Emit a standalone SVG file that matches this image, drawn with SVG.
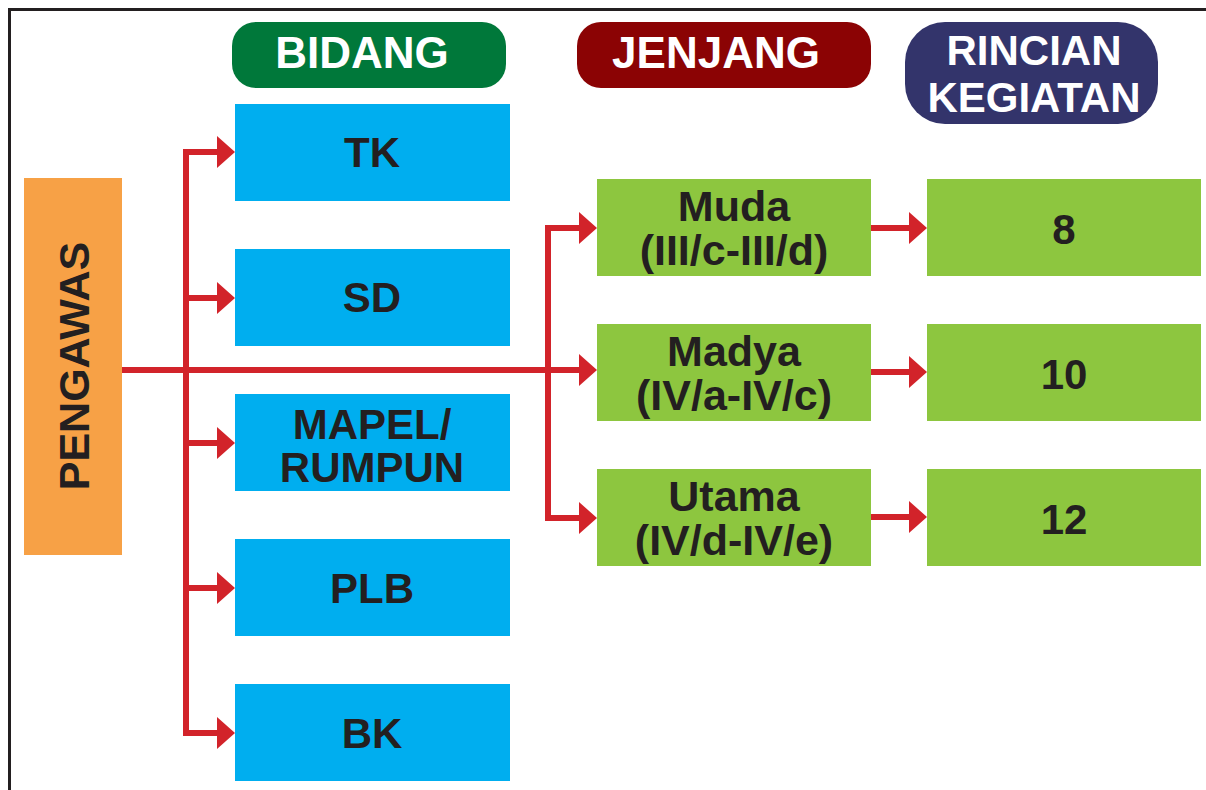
<svg xmlns="http://www.w3.org/2000/svg" width="1206" height="790" viewBox="0 0 1206 790">
  <style>
    .lbl { font-family: "Liberation Sans", Arial, sans-serif; font-weight: bold; fill: #231F20; text-anchor: middle; }
    .hdr { font-family: "Liberation Sans", Arial, sans-serif; font-weight: bold; fill: #FFFFFF; text-anchor: middle; font-size: 44px; }
    .blue { fill: #00AEEF; }
    .green { fill: #8DC63F; }
    .conn { fill: none; stroke: #D2232A; stroke-width: 6; }
  </style>
  <defs>
    <marker id="arrow" markerUnits="userSpaceOnUse" markerWidth="20" markerHeight="34" viewBox="0 -17 19 34" refX="0" refY="0" orient="auto">
      <path d="M0,-16 L18,0 L0,16 Z" fill="#D2232A"/>
    </marker>
  </defs>

  <rect x="0" y="0" width="1206" height="790" fill="#FFFFFF"/>

  <!-- frame -->
  <path d="M9.5,790 V9.5 H1206" fill="none" stroke="#231F20" stroke-width="3"/>

  <!-- column headers -->
  <g id="hdr-bidang">
    <rect x="232" y="22" width="274" height="66" rx="24" fill="#00783A"/>
    <text class="hdr" x="362" y="68">BIDANG</text>
  </g>
  <g id="hdr-jenjang">
    <rect x="577" y="22" width="294" height="66" rx="24" fill="#8B0304"/>
    <text class="hdr" x="716" y="68">JENJANG</text>
  </g>
  <g id="hdr-rincian">
    <rect x="905" y="22" width="253" height="102" rx="40" fill="#33346B"/>
    <text class="hdr" style="font-size:42px"><tspan x="1034" y="65">RINCIAN</tspan><tspan x="1034" y="112">KEGIATAN</tspan></text>
  </g>

  <!-- connectors -->
  <g id="connectors">
    <path class="conn" d="M122,370 H579" marker-end="url(#arrow)"/>
    <path class="conn" d="M186,152 V733"/>
    <path class="conn" d="M183,152 H217" marker-end="url(#arrow)"/>
    <path class="conn" d="M186,298 H217" marker-end="url(#arrow)"/>
    <path class="conn" d="M186,443 H217" marker-end="url(#arrow)"/>
    <path class="conn" d="M186,588 H217" marker-end="url(#arrow)"/>
    <path class="conn" d="M183,733 H217" marker-end="url(#arrow)"/>
    <path class="conn" d="M548,228 V518"/>
    <path class="conn" d="M545,228 H579" marker-end="url(#arrow)"/>
    <path class="conn" d="M545,518 H579" marker-end="url(#arrow)"/>
    <path class="conn" d="M871,228 H909" marker-end="url(#arrow)"/>
    <path class="conn" d="M871,372 H909" marker-end="url(#arrow)"/>
    <path class="conn" d="M871,517 H909" marker-end="url(#arrow)"/>
  </g>

  <!-- root -->
  <g id="pengawas">
    <rect x="24" y="178" width="98" height="377" fill="#F7A146"/>
    <text class="lbl" font-size="43" transform="translate(89,366) rotate(-90)" x="0" y="0">PENGAWAS</text>
  </g>

  <!-- bidang -->
  <g id="tk">
    <rect class="blue" x="235" y="104" width="275" height="97"/>
    <text class="lbl" font-size="42" x="372" y="167">TK</text>
  </g>
  <g id="sd">
    <rect class="blue" x="235" y="249" width="275" height="97"/>
    <text class="lbl" font-size="42" x="372" y="312">SD</text>
  </g>
  <g id="mapel">
    <rect class="blue" x="235" y="394" width="275" height="97"/>
    <text class="lbl" font-size="42"><tspan x="372" y="439">MAPEL/</tspan><tspan x="372" y="482">RUMPUN</tspan></text>
  </g>
  <g id="plb">
    <rect class="blue" x="235" y="539" width="275" height="97"/>
    <text class="lbl" font-size="42" x="372" y="603">PLB</text>
  </g>
  <g id="bk">
    <rect class="blue" x="235" y="684" width="275" height="97"/>
    <text class="lbl" font-size="42" x="372" y="748">BK</text>
  </g>

  <!-- jenjang -->
  <g id="muda">
    <rect class="green" x="597" y="179" width="274" height="97"/>
    <text class="lbl" font-size="43"><tspan x="734" y="221">Muda</tspan><tspan x="734" y="265">(III/c-III/d)</tspan></text>
  </g>
  <g id="madya">
    <rect class="green" x="597" y="324" width="274" height="97"/>
    <text class="lbl" font-size="43"><tspan x="734" y="366">Madya</tspan><tspan x="734" y="410">(IV/a-IV/c)</tspan></text>
  </g>
  <g id="utama">
    <rect class="green" x="597" y="469" width="274" height="97"/>
    <text class="lbl" font-size="43"><tspan x="734" y="511">Utama</tspan><tspan x="734" y="555">(IV/d-IV/e)</tspan></text>
  </g>

  <!-- rincian kegiatan -->
  <g id="r-muda">
    <rect class="green" x="927" y="179" width="274" height="97"/>
    <text class="lbl" font-size="42" x="1064" y="244">8</text>
  </g>
  <g id="r-madya">
    <rect class="green" x="927" y="324" width="274" height="97"/>
    <text class="lbl" font-size="42" x="1064" y="389">10</text>
  </g>
  <g id="r-utama">
    <rect class="green" x="927" y="469" width="274" height="97"/>
    <text class="lbl" font-size="42" x="1064" y="534">12</text>
  </g>
</svg>
